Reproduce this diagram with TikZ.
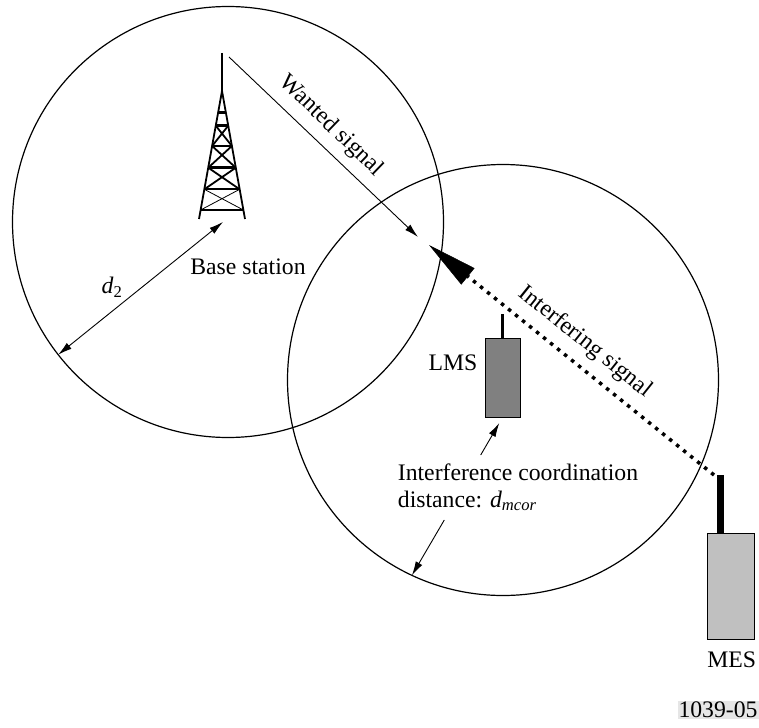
\documentclass[tikz,border=0pt]{standalone}
\usepackage{fontspec}
\setmainfont{Liberation Serif}
\usetikzlibrary{arrows.meta}
\definecolor{lmsgray}{HTML}{808080}
\definecolor{mesgray}{HTML}{C0C0C0}
\definecolor{figgray}{HTML}{E6E6E6}
\begin{document}
\begin{tikzpicture}[x=1pt,y=-1pt,
  lbl/.style={font=\fontsize{23.7}{28}\selectfont, inner sep=0pt},
  cell/.style={circle, draw, line width=1.2pt, minimum size=431pt, inner sep=0pt, outer sep=0pt},
  thinarrow/.style={line width=0.9pt, -{Latex[length=14pt,width=7.5pt]}},
  dblarrow/.style={line width=0.9pt, {Latex[length=14pt,width=7.5pt]}-{Latex[length=14pt,width=7.5pt]}},
  bar/.style={line width=2.4pt},
  leg/.style={line width=1.8pt},
  dotline/.style={line width=3.5pt, dash pattern=on 3.5pt off 5.5pt},
  unit/.style={draw, line width=1pt, inner sep=0pt, outer sep=0pt}]
\useasboundingbox (0,0) rectangle (759,727);
% cells
\node[cell] (cellA) at (228,222) {};
\node[cell] (cellB) at (503,380) {};
% tower
\coordinate (mastTop) at (222,53);
\coordinate (apex) at (222,91);
\coordinate (legL) at (199,219);
\coordinate (legR) at (245,219);
\draw[line width=2pt] (mastTop) -- (apex);
\draw[leg] (apex) -- (legL) (apex) -- (legR);
\foreach \y in {112.7,125.7,146,167.7,189.3,210}{
  \pgfmathsetmacro{\h}{23*(\y-91)/128}
  \draw[bar] ({222-\h},\y) -- ({222+\h},\y);
}
\foreach \ya/\yb/\w in {125.7/146/1.8, 146/167.7/1.8, 167.7/189.3/1.8, 189.3/210/0.8}{
  \pgfmathsetmacro{\ha}{23*(\ya-91)/128}
  \pgfmathsetmacro{\hb}{23*(\yb-91)/128}
  \draw[line width=\w pt] ({222-\ha},\ya) -- ({222+\hb},\yb) ({222+\ha},\ya) -- ({222-\hb},\yb);
}
% base station labels and d2
\coordinate (bsfoot) at (223,222);
\draw[dblarrow] (cellA.218) -- (bsfoot);
\node[lbl] (bslbl) at (248,267) {Base station};
\node[lbl] (d2lbl) at (112,287) {\textit{d}\textsubscript{2}};
% wanted signal
\coordinate (wsA) at (229,57);
\coordinate (wsB) at (418,237);
\draw[thinarrow] (wsA) -- (wsB);
\node[lbl, rotate=-44] (wslbl) at (331,126) {Wanted signal};
% LMS
\node[unit, fill=lmsgray, minimum width=35pt, minimum height=79pt] (lms) at (502.5,377.8) {};
\coordinate (lmsant) at (502.5,314);
\draw[line width=3pt] (lms.north) -- (lmsant);
\node[lbl] (lmslbl) at (453,363) {LMS};
% MES
\node[unit, fill=mesgray, minimum width=46.6pt, minimum height=106pt] (mes) at (731,586) {};
\coordinate (mesantbot) at (720.7,533);
\coordinate (mesanttop) at (720.7,475);
\draw[line width=7pt] (mesantbot) -- (mesanttop);
\node[lbl] (meslbl) at (731.7,660) {MES};
% interfering signal
\coordinate (idot) at (714,475);
\coordinate (itip) at (429,245);
\draw[dotline, -{Triangle[length=50pt,width=21pt,line width=0.5pt]}] (idot) -- (itip);
\node[lbl, rotate=-38.7] (iflbl) at (585,342) {Interfering signal};
% coordination distance
\node[lbl, anchor=base west] (icd1) at (397.7,480) {Interference coordination};
\node[lbl, anchor=base west] (icd2) at (397.7,507) {distance: \textit{d}\textsubscript{\textit{mcor}}};
\coordinate (icdA) at (480.7,455);
\coordinate (lmsT) at (499.3,423);
\draw[thinarrow] (icdA) -- (lmsT);
\coordinate (icdB) at (444.3,520);
\draw[thinarrow] (icdB) -- (cellB.245.5);
% figure number
\node[lbl, fill=figgray, inner sep=1pt] (fignum) at (718,709.5) {1039-05};
\end{tikzpicture}
\end{document}
